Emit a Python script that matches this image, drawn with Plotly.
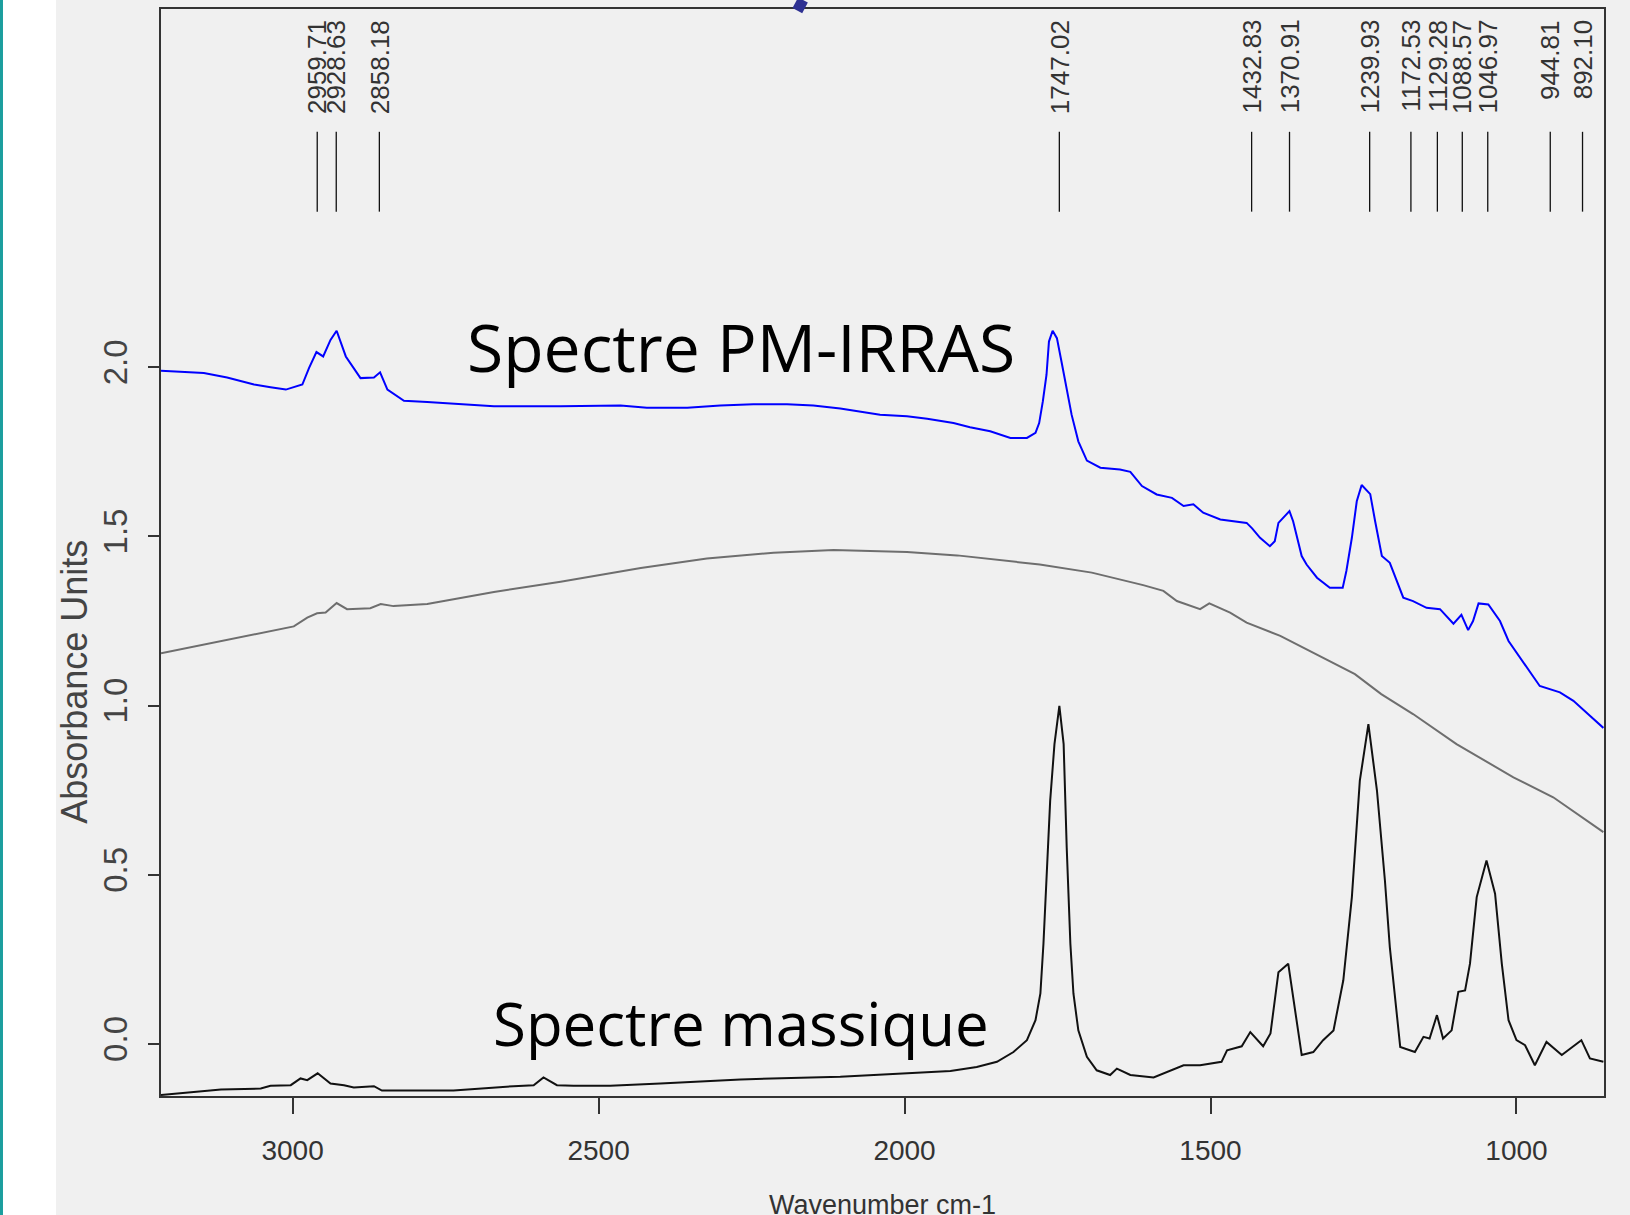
import plotly.graph_objects as go

# ---------------- data ----------------
pm_wn = [3215, 3145, 3107, 3063, 3036, 3011, 2984, 2973, 2961, 2950, 2938, 2928, 2913, 2902,
         2889, 2867, 2857, 2845, 2818, 2780, 2726, 2671, 2562, 2464, 2421, 2355, 2301, 2247,
         2192, 2149, 2105, 2083, 2040, 1996, 1963, 1920, 1893, 1860, 1827, 1800, 1786, 1780,
         1774, 1768, 1764, 1758, 1751, 1743, 1735, 1727, 1716, 1702, 1680, 1648, 1631, 1612,
         1588, 1563, 1544, 1528, 1512, 1484, 1441, 1432, 1419, 1403, 1395, 1389, 1371, 1365,
         1351, 1343, 1326, 1305, 1284, 1278, 1269, 1261, 1253, 1239, 1231, 1220, 1207, 1196,
         1185, 1169, 1147, 1125, 1103, 1090, 1079, 1071, 1062, 1046, 1027, 1013, 983, 962,
         929, 907, 880, 858]
pm_abs = [1.990, 1.983, 1.970, 1.949, 1.941, 1.934, 1.949, 1.998, 2.045, 2.032, 2.081, 2.108, 2.032, 2.003,
          1.968, 1.970, 1.985, 1.934, 1.901, 1.897, 1.892, 1.885, 1.885, 1.887, 1.880, 1.880, 1.887, 1.891,
          1.891, 1.887, 1.878, 1.872, 1.860, 1.855, 1.848, 1.835, 1.823, 1.811, 1.791, 1.791, 1.806, 1.835,
          1.899, 1.978, 2.076, 2.108, 2.086, 2.012, 1.939, 1.860, 1.781, 1.724, 1.703, 1.698, 1.691, 1.649,
          1.624, 1.614, 1.590, 1.595, 1.570, 1.550, 1.540, 1.524, 1.496, 1.471, 1.486, 1.540, 1.575, 1.545,
          1.442, 1.417, 1.378, 1.348, 1.348, 1.398, 1.496, 1.604, 1.652, 1.625, 1.545, 1.442, 1.422, 1.368,
          1.319, 1.309, 1.289, 1.285, 1.242, 1.268, 1.223, 1.250, 1.302, 1.299, 1.250, 1.191, 1.112, 1.058,
          1.039, 1.014, 0.970, 0.934]

ref_wn = [3215, 3134, 3052, 2998, 2976, 2960, 2946, 2928, 2911, 2873, 2856, 2835, 2780, 2671, 2562,
          2431, 2323, 2214, 2116, 1996, 1914, 1844, 1779, 1694, 1610, 1577, 1555, 1517, 1502, 1468,
          1441, 1386, 1318, 1264, 1221, 1169, 1098, 1005, 940, 858]
ref_abs = [1.155, 1.184, 1.214, 1.234, 1.260, 1.273, 1.275, 1.303, 1.285, 1.288, 1.300, 1.294, 1.300, 1.336, 1.366,
           1.407, 1.435, 1.452, 1.460, 1.454, 1.444, 1.429, 1.417, 1.393, 1.356, 1.339, 1.309, 1.285, 1.302, 1.275,
           1.245, 1.206, 1.142, 1.093, 1.034, 0.975, 0.886, 0.788, 0.729, 0.626]

bulk_wn = [3215, 3188, 3117, 3052, 3036, 3003, 2987, 2976, 2959, 2938, 2916, 2900, 2867, 2854, 2737,
           2639, 2606, 2590, 2568, 2541, 2481, 2399, 2268, 2105, 2007, 1925, 1882, 1849, 1822, 1800,
           1786, 1778, 1773, 1767, 1762, 1755, 1747, 1740, 1735, 1729, 1724, 1716, 1702, 1686, 1664,
           1653, 1631, 1593, 1571, 1544, 1517, 1495, 1482, 1473, 1449, 1435, 1414, 1402, 1389, 1373,
           1362, 1351, 1332, 1316, 1299, 1283, 1269, 1256, 1242, 1228, 1215, 1207, 1190, 1166, 1152,
           1142, 1130, 1120, 1106, 1095, 1084, 1076, 1065, 1049, 1035, 1024, 1013, 1000, 986, 970,
           951, 926, 894, 880, 858]
bulk_abs = [-0.151, -0.146, -0.135, -0.132, -0.124, -0.122, -0.102, -0.107, -0.087, -0.117, -0.122, -0.129, -0.125, -0.138, -0.138,
            -0.125, -0.122, -0.099, -0.122, -0.124, -0.124, -0.117, -0.105, -0.097, -0.087, -0.080, -0.068, -0.053, -0.024, 0.011,
            0.070, 0.149, 0.296, 0.522, 0.719, 0.886, 0.999, 0.886, 0.581, 0.296, 0.149, 0.040, -0.038, -0.078, -0.092,
            -0.073, -0.092, -0.099, -0.083, -0.063, -0.063, -0.058, -0.053, -0.019, -0.007, 0.035, -0.007, 0.031, 0.212, 0.237,
            0.109, -0.033, -0.024, 0.011, 0.040, 0.188, 0.434, 0.778, 0.945, 0.749, 0.483, 0.286, -0.009, -0.024, 0.021,
            0.016, 0.085, 0.016, 0.040, 0.154, 0.158, 0.237, 0.434, 0.542, 0.444, 0.237, 0.070, 0.011, -0.004, -0.063,
            0.006, -0.033, 0.011, -0.043, -0.053]

peak_labels = ["2959.71", "2928.63", "2858.18", "1747.02", "1432.83", "1370.91", "1239.93",
               "1172.53", "1129.28", "1088.57", "1046.97", "944.81", "892.10"]

x_ticks = [3000, 2500, 2000, 1500, 1000]
y_ticks = [0.0, 0.5, 1.0, 1.5, 2.0]
y_ticktext = ["0.0", "0.5", "1.0", "1.5", "2.0"]

# ---------------- figure ----------------
fig = go.Figure()
fig.add_trace(go.Scatter(x=ref_wn, y=ref_abs, mode="lines",
                         line=dict(color="#6e6e6e", width=2), hoverinfo="skip"))
fig.add_trace(go.Scatter(x=pm_wn, y=pm_abs, mode="lines",
                         line=dict(color="#0000ff", width=2), hoverinfo="skip"))
fig.add_trace(go.Scatter(x=bulk_wn, y=bulk_abs, mode="lines",
                         line=dict(color="#111111", width=2), hoverinfo="skip"))

shapes = []
annotations = []
for lab in peak_labels:
    wn = float(lab)
    shapes.append(dict(type="line", xref="x", yref="y", x0=wn, x1=wn, y0=2.460, y1=2.696,
                       line=dict(color="#111111", width=1.3)))
    annotations.append(dict(x=wn, y=3.033, xref="x", yref="y", text=lab, textangle=-90,
                            showarrow=False, xanchor="center", yanchor="top",
                            font=dict(family="Liberation Sans, Arial", size=26, color="#333333")))

annotations.append(dict(x=2268, y=2.063, xref="x", yref="y", text="Spectre PM-IRRAS",
                        showarrow=False, xanchor="center", yanchor="middle",
                        font=dict(family="Open Sans", size=66, color="#000000")))
annotations.append(dict(x=2268, y=0.062, xref="x", yref="y", text="Spectre massique",
                        showarrow=False, xanchor="center", yanchor="middle",
                        font=dict(family="Open Sans", size=60, color="#000000")))
annotations.append(dict(x=0.5, y=-0.0845, xref="paper", yref="paper", text="Wavenumber cm-1",
                        showarrow=False, xanchor="center", yanchor="top",
                        font=dict(family="Liberation Sans, Arial", size=27, color="#333333")))
annotations.append(dict(x=-0.0596, y=0.381, xref="paper", yref="paper", text="Absorbance Units",
                        textangle=-90, showarrow=False, xanchor="center", yanchor="middle",
                        font=dict(family="Liberation Sans, Arial", size=36, color="#444444")))

# page decorations (slide background strips and cut-off title stroke)
shapes.append(dict(type="rect", xref="paper", yref="paper", x0=-0.1095, x1=-0.0728, y0=-0.12, y1=1.02,
                   fillcolor="#ffffff", line=dict(width=0), layer="below"))
shapes.append(dict(type="rect", xref="paper", yref="paper", x0=-0.1130, x1=-0.1095, y0=-0.12, y1=1.02,
                   fillcolor="#1b9e9e", line=dict(width=0), layer="below"))
shapes.append(dict(type="line", xref="paper", yref="paper", x0=0.4449, x1=0.4410, y0=1.0083, y1=0.9985,
                   line=dict(color="#2e3192", width=11)))

fig.update_layout(
    width=1630, height=1215, autosize=False,
    margin=dict(l=161, r=26, t=7, b=119),
    paper_bgcolor="#f0f0f0", plot_bgcolor="#f0f0f0",
    showlegend=False,
    shapes=shapes, annotations=annotations,
    xaxis=dict(range=[3215, 857], tickvals=x_ticks, ticks="outside", ticklen=16, tickwidth=1.5,
               tickcolor="#333333", showline=True, mirror=True, linecolor="#333333", linewidth=2,
               showgrid=False, zeroline=False, ticklabelstandoff=12,
               tickfont=dict(family="Liberation Sans, Arial", size=28, color="#333333")),
    yaxis=dict(range=[-0.154, 3.059], tickvals=y_ticks, ticktext=y_ticktext, ticks="outside", ticklen=11,
               tickwidth=1.5, tickcolor="#333333", tickangle=-90, showline=True, mirror=True,
               linecolor="#333333", linewidth=2, showgrid=False, zeroline=False, ticklabelstandoff=8,
               tickfont=dict(family="Liberation Sans, Arial", size=33, color="#444444")),
)

fig.write_html("out.html", config={"displayModeBar": False},
               post_script="document.body.style.margin='0';document.body.style.overflow='hidden';")
